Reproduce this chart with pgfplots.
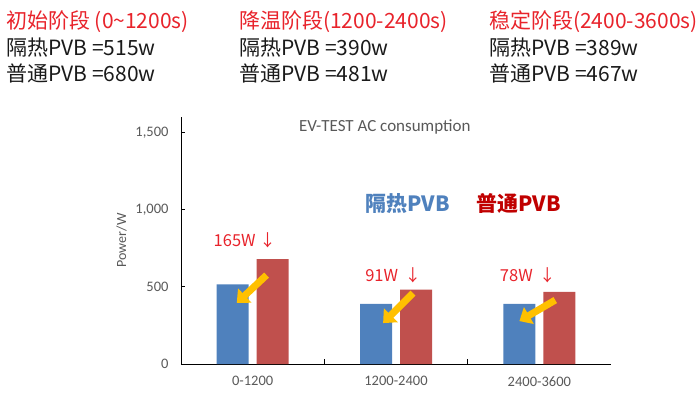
\documentclass[border=0pt]{standalone}
\usepackage{pgfplots}
\pgfplotsset{compat=1.18}
\usepackage{fontspec}
\setmainfont{Carlito}
\newfontfamily\cjk{Noto Sans CJK SC}
\usetikzlibrary{arrows.meta}
\definecolor{barblue}{HTML}{4F81BD}
\definecolor{barred}{HTML}{C0504D}
\definecolor{txtred}{HTML}{E8232B}
\definecolor{legred}{HTML}{C00000}
\definecolor{gold}{HTML}{FFC000}
\definecolor{axgray}{HTML}{595959}
\definecolor{txtblack}{HTML}{1A1A1A}
\begin{document}
\begin{tikzpicture}
\useasboundingbox (0pt,0pt) rectangle (700pt,-403pt);
% header text
\begin{scope}[every node/.style={anchor=base west, inner sep=0pt, font=\cjk\fontsize{21}{25}\selectfont}]
\node[text=txtred] at (6pt,-29pt) {初始阶段 (0\textasciitilde1200s)};
\node[text=txtblack] at (6pt,-56pt) {隔热PVB =515w};
\node[text=txtblack] at (6pt,-82pt) {普通PVB =680w};
\node[text=txtred] at (239pt,-29pt) {降温阶段(1200-2400s)};
\node[text=txtblack] at (239pt,-56pt) {隔热PVB =390w};
\node[text=txtblack] at (239pt,-82pt) {普通PVB =481w};
\node[text=txtred] at (489pt,-29pt) {稳定阶段(2400-3600s)};
\node[text=txtblack] at (489pt,-56pt) {隔热PVB =389w};
\node[text=txtblack] at (489pt,-82pt) {普通PVB =467w};
\end{scope}
\begin{axis}[
  at={(181pt,-364pt)}, anchor=south west,
  scale only axis, width=430pt, height=247pt,
  xmin=-0.5, xmax=2.5, ymin=0, ymax=1600,
  axis lines=left,
  axis line style={-, black, line width=1pt},
  clip=false,
  ytick={0,500,1000,1500},
  xtick={0,1,2},
  xticklabels={0-1200,1200-2400,2400-3600},
  minor xtick={0.5,1.5},
  major x tick style={draw=none},
  tick align=inside,
  major tick length=4pt, minor tick length=5pt,
  tick style={black, line width=1pt},
  ticklabel style={font=\fontsize{14.5}{16}\selectfont, text=axgray},
  /pgf/number format/assume math mode=true,
  /pgf/number format/1000 sep={,},
  yticklabel style={xshift=-9pt},
  xticklabel style={yshift=-9pt},
  ylabel={Power/W},
  every axis y label/.style={at={(axis description cs:-0.138,0.5)}, rotate=90, anchor=center, font=\fontsize{14}{16}\selectfont, text=axgray},
]
\addplot[ybar, fill=barblue, draw=none, bar width=32pt, bar shift=-20pt] coordinates {(0,515) (1,390) (2,389)};
\addplot[ybar, fill=barred, draw=none, bar width=32pt, bar shift=20pt] coordinates {(0,680) (1,481) (2,467)};
\draw[gold, line width=7pt, -{Triangle[length=11pt,width=19pt]}] (axis cs:0.097,576) -- (axis cs:-0.111,395);
\draw[gold, line width=7pt, -{Triangle[length=11pt,width=19pt]}] (axis cs:1.118,459) -- (axis cs:0.91,265);
\draw[gold, line width=7pt, -{Triangle[length=11pt,width=19pt]}] (axis cs:2.111,414) -- (axis cs:1.861,278);
\node[text=txtred, font=\cjk\fontsize{16.5}{18}\selectfont] at (axis cs:-0.055,802) {165W ↓};
\node[text=txtred, font=\cjk\fontsize{16.5}{18}\selectfont] at (axis cs:0.98,576) {91W \,↓};
\node[text=txtred, font=\cjk\fontsize{16.5}{18}\selectfont] at (axis cs:1.92,576) {78W \,↓};
\node[text=barblue, font=\cjk\bfseries\fontsize{21}{24}\selectfont] at (axis cs:1.08,1042) {隔热PVB};
\node[text=legred, font=\cjk\bfseries\fontsize{21}{24}\selectfont] at (axis cs:1.855,1042) {普通PVB};
\node[text=axgray, font=\fontsize{17}{20}\selectfont] at (axis description cs:0.474,0.96) {EV-TEST AC consumption};
\end{axis}
\end{tikzpicture}
\end{document}
